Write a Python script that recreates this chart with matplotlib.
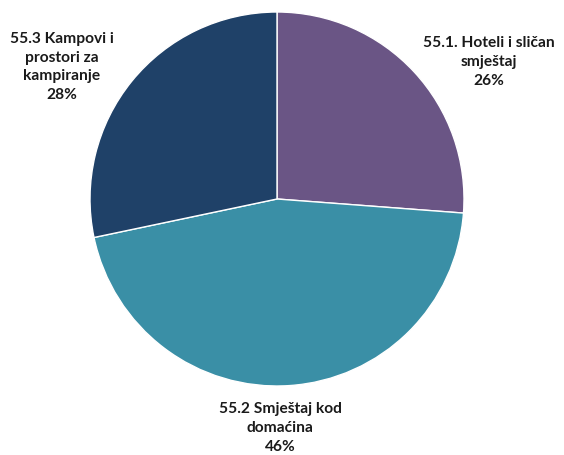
import matplotlib
matplotlib.use("Agg")
import matplotlib.pyplot as plt

categories = ["55.1. Hoteli i sličan\nsmještaj", "55.2 Smještaj kod\ndomaćina", "55.3 Kampovi i\nprostori za\nkampiranje"]
values = [26.2, 45.5, 28.3]
pct_labels = ["26%", "46%", "28%"]
colors = ["#6A5585", "#3A8FA6", "#1F4168"]

W, H = 564, 455
fig = plt.figure(figsize=(W / 100, H / 100), dpi=100)
cx, cy, r = 277, 199, 187
ax = fig.add_axes([(cx - r) / W, (H - cy - r) / H, 2 * r / W, 2 * r / H])
ax.pie(values, colors=colors, startangle=90, counterclock=False,
       wedgeprops=dict(edgecolor="white", linewidth=1.0))
ax.set_xlim(-1, 1)
ax.set_ylim(-1, 1)
ax.set_aspect("equal")
ax.axis("off")

label_pos = [(489, 62), (280, 428), (62, 67)]
for cat, pl, (px, py) in zip(categories, pct_labels, label_pos):
    fig.text(px / W, 1 - py / H, f"{cat}\n{pl}", ha="center", va="center",
             fontsize=11.2, fontweight="bold", family="Lato", color="#1a1a1a",
             linespacing=1.45)

fig.savefig("out.png", dpi=100)
